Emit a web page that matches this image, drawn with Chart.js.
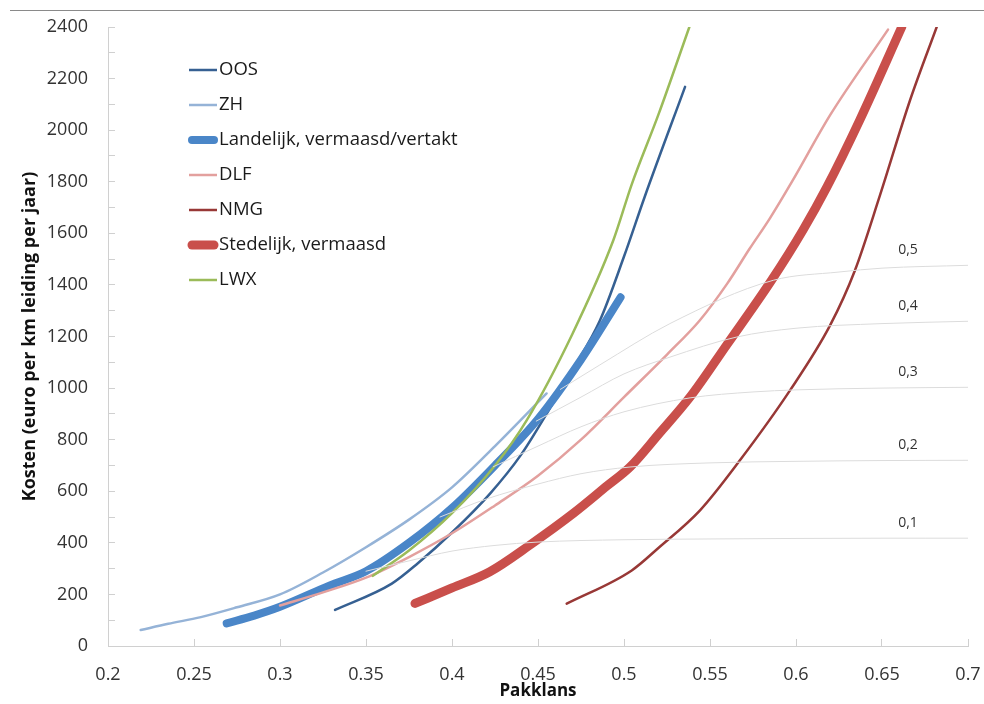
<!DOCTYPE html>
<html>
<head>
<meta charset="utf-8">
<script src="https://cdn.jsdelivr.net/npm/chart.js@4.4.1/dist/chart.umd.min.js"></script>
<style>
  body { margin: 0; background: #fff; }
  #wrap { position: relative; width: 984px; height: 704px; }
  #topline { position: absolute; left: 10px; top: 10px; width: 974px; border-top: 1.5px solid #8a8a8a; }
</style>
</head>
<body>
<div id="wrap">
  <div id="topline"></div>
  <canvas id="kostenChart" width="984" height="704"></canvas>
</div>
<script>
// Reeksen (pakklans -> kosten)
const oosX = [0.332, 0.365, 0.38, 0.40, 0.422, 0.44, 0.455, 0.47, 0.486, 0.50, 0.512, 0.5355];
const oosY = [140, 242, 320, 440, 590, 740, 900, 1070, 1262, 1510, 1741, 2168];

const zhX = [0.219, 0.235, 0.254, 0.275, 0.30, 0.325, 0.35, 0.375, 0.40, 0.425, 0.455];
const zhY = [62, 86, 112, 150, 200, 285, 383, 490, 615, 775, 979];

const landX = [0.269, 0.285, 0.30, 0.329, 0.35, 0.375, 0.40, 0.425, 0.45, 0.475, 0.498];
const landY = [88, 118, 152, 235, 290, 400, 535, 700, 880, 1110, 1352];

const dlfX = [0.30, 0.325, 0.35, 0.375, 0.40, 0.425, 0.45, 0.475, 0.50, 0.525, 0.544, 0.56, 0.573, 0.585, 0.598, 0.62, 0.6535];
const dlfY = [157, 208, 265, 345, 437, 545, 660, 800, 965, 1130, 1262, 1405, 1540, 1660, 1804, 2060, 2390];

const nmgX = [0.4667, 0.5045, 0.52, 0.5442, 0.5674, 0.5965, 0.6198, 0.6343, 0.6488, 0.6663, 0.6818];
const nmgY = [164, 293, 380, 526, 720, 991, 1243, 1457, 1747, 2116, 2400];

const stedX = [0.3785, 0.40, 0.422, 0.445, 0.4705, 0.49, 0.5035, 0.52, 0.5384, 0.56, 0.5855, 0.604, 0.618, 0.637, 0.6615];
const stedY = [165, 225, 288, 390, 514, 620, 694, 820, 965, 1170, 1415, 1612, 1780, 2038, 2400];

const lwxX = [0.354, 0.375, 0.40, 0.425, 0.4434, 0.47, 0.4938, 0.5045, 0.52, 0.538];
const lwxY = [272, 370, 515, 700, 875, 1210, 1573, 1790, 2060, 2400];

// grijze hulplijnen 0,1 .. 0,5
const iso1X = [0.35, 0.375, 0.40, 0.425, 0.45, 0.50, 0.55, 0.60, 0.65, 0.70];
const iso1Y = [290, 330, 368, 390, 403, 412, 415, 417, 418, 418];
const iso2X = [0.393, 0.42, 0.45, 0.475, 0.5035, 0.55, 0.60, 0.65, 0.70];
const iso2Y = [500, 570, 628, 668, 694, 710, 716, 719, 720];
const iso3X = [0.424, 0.45, 0.475, 0.50, 0.5384, 0.575, 0.60, 0.65, 0.70];
const iso3Y = [695, 775, 850, 908, 962, 985, 993, 1000, 1003];
const iso4X = [0.449, 0.475, 0.50, 0.5267, 0.5655, 0.60, 0.65, 0.70];
const iso4Y = [872, 965, 1055, 1120, 1198, 1232, 1250, 1259];
const iso5X = [0.463, 0.486, 0.5267, 0.5868, 0.625, 0.65, 0.70];
const iso5Y = [995, 1090, 1250, 1418, 1450, 1465, 1476];
const isoLabels = ['0,1', '0,2', '0,3', '0,4', '0,5'];

const FONT = "'Open Sans', sans-serif";

function pts(xs, ys) {
  return xs.map((x, i) => ({ x: x, y: ys[i] }));
}

function serie(label, xs, ys, color, width, order) {
  return {
    label: label,
    data: pts(xs, ys),
    borderColor: color,
    borderWidth: width,
    borderCapStyle: 'round',
    borderJoinStyle: 'round',
    pointRadius: 0,
    fill: false,
    cubicInterpolationMode: 'monotone',
    order: order
  };
}

// later in Excel = bovenop, dus lagere order
const mainSeries = [
  serie('OOS', oosX, oosY, '#366092', 2.5, 20),
  serie('ZH', zhX, zhY, '#95B3D7', 2.5, 19),
  serie('Landelijk, vermaasd/vertakt', landX, landY, '#4A86C8', 8, 18),
  serie('DLF', dlfX, dlfY, '#E3A09E', 2.5, 17),
  serie('NMG', nmgX, nmgY, '#983836', 2.5, 16),
  serie('Stedelijk, vermaasd', stedX, stedY, '#C94F4B', 9, 15),
  serie('LWX', lwxX, lwxY, '#9BBB59', 2.5, 14)
];

const isoSeries = [
  [iso1X, iso1Y], [iso2X, iso2Y], [iso3X, iso3Y], [iso4X, iso4Y], [iso5X, iso5Y]
].map((s, i) => serie(isoLabels[i], s[0], s[1], '#DCDCDC', 1, 5 - i));

// legenda in het grafiekvlak
const legendInside = {
  id: 'legendInside',
  afterDraw(chart) {
    const ctx = chart.ctx;
    const area = chart.chartArea;
    ctx.save();
    ctx.font = '18.5px ' + FONT;
    ctx.textBaseline = 'middle';
    ctx.fillStyle = '#1a1a1a';
    mainSeries.forEach((ds, i) => {
      const y = area.top + 43 + i * 35;
      const x0 = area.left + 81;
      const thick = ds.borderWidth > 4;
      ctx.beginPath();
      ctx.strokeStyle = ds.borderColor;
      ctx.lineWidth = ds.borderWidth;
      ctx.lineCap = thick ? 'round' : 'butt';
      ctx.moveTo(x0 + (thick ? 3 : 0), y);
      ctx.lineTo(x0 + 28 - (thick ? 3 : 0), y);
      ctx.stroke();
      ctx.fillText(ds.label, x0 + 30, y);
    });
    ctx.restore();
  }
};

// labels 0,1 .. 0,5 boven de hulplijnen
const isoText = {
  id: 'isoText',
  afterDraw(chart) {
    const ctx = chart.ctx;
    const xs = chart.scales.x, ys = chart.scales.y;
    ctx.save();
    ctx.font = '14px ' + FONT;
    ctx.fillStyle = '#333';
    ctx.textAlign = 'center';
    ctx.textBaseline = 'middle';
    isoSeries.forEach(ds => {
      const last = ds.data[ds.data.length - 1];
      ctx.fillText(ds.label, xs.getPixelForValue(last.x) - 60, ys.getPixelForValue(last.y) - 15);
    });
    ctx.restore();
  }
};

const config = {
  type: 'line',
  data: { datasets: mainSeries.concat(isoSeries) },
  options: {
    responsive: false,
    animation: false,
    layout: { padding: { left: 0, right: 16, top: 27, bottom: 0 } },
    plugins: {
      legend: { display: false },
      tooltip: { enabled: false }
    },
    scales: {
      x: {
        type: 'linear',
        min: 0.2,
        max: 0.7,
        ticks: {
          stepSize: 0.05,
          autoSkip: false,
          maxRotation: 0,
          padding: 25,
          color: '#333',
          font: { family: FONT, size: 18 },
          callback: v => String(+v.toFixed(2))
        },
        grid: { drawOnChartArea: false, tickLength: -7, color: '#D0D0D0' },
        border: { color: '#D0D0D0', width: 1 },
        title: {
          display: true,
          text: 'Pakklans',
          color: '#111',
          font: { family: FONT, size: 17, weight: 'bold' },
          padding: { top: 0, bottom: 3 }
        },
        afterFit: s => {
          s.height = 58;
          s.paddingLeft = 0;
          s.paddingRight = 0;
        }
      },
      y: {
        min: 0,
        max: 2400,
        ticks: {
          stepSize: 100,
          autoSkip: false,
          padding: 27,
          color: '#333',
          font: { family: FONT, size: 18 },
          callback: v => (v % 200 === 0 ? v : '')
        },
        grid: { drawOnChartArea: false, tickLength: -7, color: '#D0D0D0' },
        border: { color: '#D0D0D0', width: 1 },
        title: {
          display: true,
          text: 'Kosten (euro per km leiding per jaar)',
          color: '#111',
          font: { family: FONT, size: 18, weight: 'bold' },
          padding: { top: 19, bottom: 0 }
        },
        afterFit: s => {
          s.width = 108;
          s.paddingTop = 0;
          s.paddingBottom = 0;
        }
      }
    }
  },
  plugins: [legendInside, isoText]
};

const kostenChart = new Chart(document.getElementById('kostenChart'), config);
</script>
</body>
</html>
